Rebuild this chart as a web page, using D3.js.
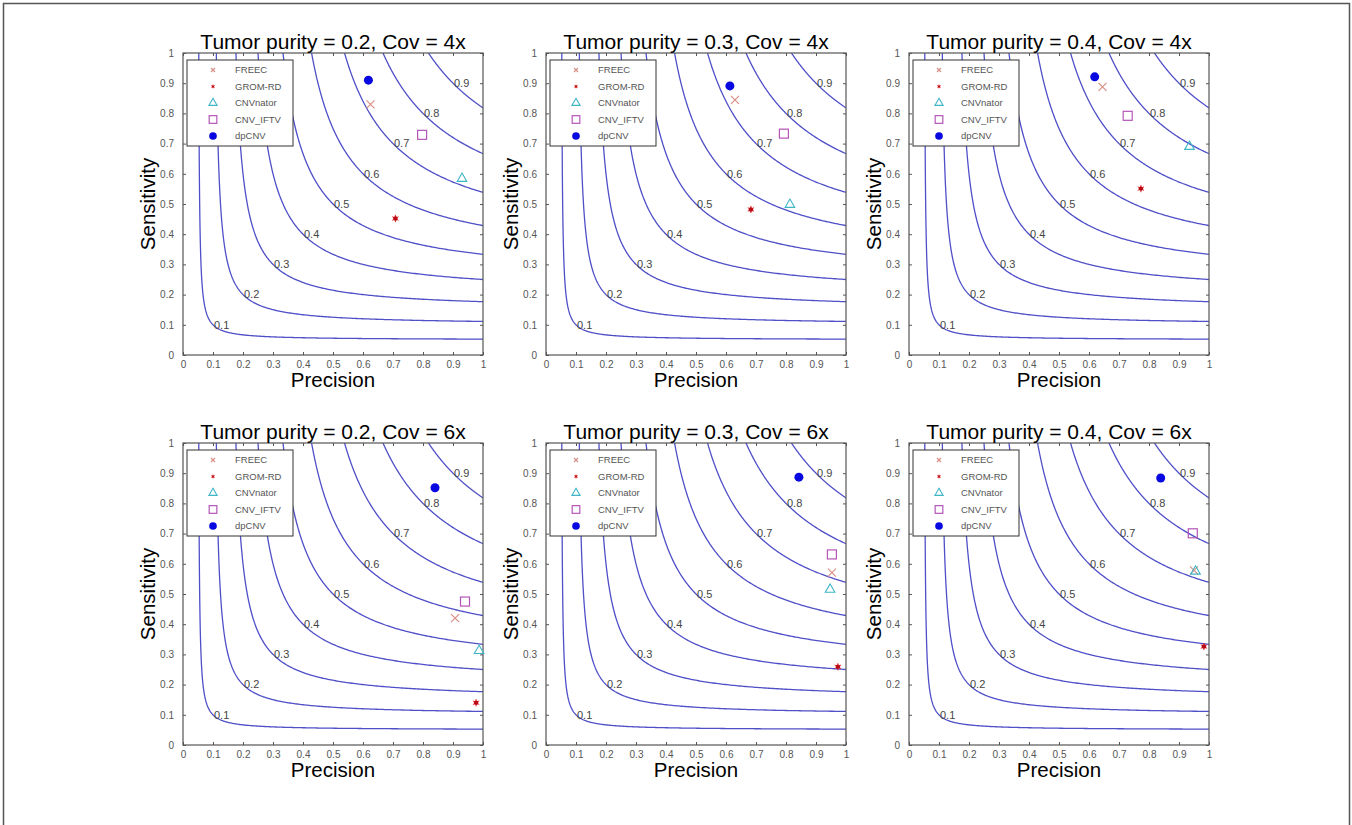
<!DOCTYPE html>
<html>
<head>
<meta charset="utf-8">
<script src="https://cdn.jsdelivr.net/npm/d3@7"></script>
<style>
  body { margin: 0; background: #fff; }
  svg { display: block; font-family: "Liberation Sans", Arial, sans-serif; }
</style>
</head>
<body>
<svg class="chart"></svg>
<script>
// panel titles, row by row
const titles = [
  'Tumor purity = 0.2, Cov = 4x',
  'Tumor purity = 0.3, Cov = 4x',
  'Tumor purity = 0.4, Cov = 4x',
  'Tumor purity = 0.2, Cov = 6x',
  'Tumor purity = 0.3, Cov = 6x',
  'Tumor purity = 0.4, Cov = 6x'
]

const methods = ['FREEC', 'GROM-RD', 'CNVnator', 'CNV_IFTV', 'dpCNV']

// precision / sensitivity per panel (same order as titles)
const freecP = [0.625, 0.630, 0.645, 0.907, 0.953, 0.950]
const freecR = [0.830, 0.845, 0.888, 0.420, 0.571, 0.578]
const gromP = [0.708, 0.683, 0.773, 0.977, 0.973, 0.983]
const gromR = [0.452, 0.482, 0.551, 0.140, 0.259, 0.326]
const cnvnatorP = [0.930, 0.813, 0.935, 0.987, 0.947, 0.955]
const cnvnatorR = [0.584, 0.498, 0.690, 0.312, 0.515, 0.575]
const iftvP = [0.797, 0.793, 0.729, 0.940, 0.953, 0.946]
const iftvR = [0.729, 0.733, 0.792, 0.475, 0.631, 0.701]
const dpcnvP = [0.618, 0.613, 0.619, 0.840, 0.843, 0.839]
const dpcnvR = [0.910, 0.891, 0.921, 0.852, 0.887, 0.884]

// iso F-score levels and axis ticks
const fLevels = [0.1, 0.2, 0.3, 0.4, 0.5, 0.6, 0.7, 0.8, 0.9]
const ticks = [0, 0.1, 0.2, 0.3, 0.4, 0.5, 0.6, 0.7, 0.8, 0.9, 1]

const W = 1352, H = 825
const colLeft = [183, 546, 909]
const rowTop = [53, 443]
const pw = 300, ph = 302

const svg = d3.select('.chart').attr('width', W).attr('height', H)

// outer frame
svg.append('path')
  .attr('d', `M3.5,${H + 2}V3.5H1349.5V${H + 2}`)
  .attr('fill', 'none')
  .attr('stroke', '#555')
  .attr('stroke-width', 1.5)

const styles = {
  'FREEC': { color: '#d98f86' },
  'GROM-RD': { color: '#e82020' },
  'CNVnator': { color: '#3fb6c6' },
  'CNV_IFTV': { color: '#b455b8' },
  'dpCNV': { color: '#0808e0' }
}

function drawMarker(g, name, x, y, s) {
  const c = styles[name].color
  if (name === 'FREEC') {
    const h = 4 * s
    g.append('path')
      .attr('d', `M${x - h},${y - h}L${x + h},${y + h}M${x - h},${y + h}L${x + h},${y - h}`)
      .attr('stroke', c).attr('stroke-width', 1.2).attr('fill', 'none')
  } else if (name === 'GROM-RD') {
    g.append('path')
      .attr('transform', `translate(${x},${y})`)
      .attr('d', d3.symbol(d3.symbolAsterisk, 36 * s * s)())
      .attr('stroke', c).attr('stroke-width', 1).attr('fill', 'none')
    g.append('circle').attr('cx', x).attr('cy', y).attr('r', 2.2 * s).attr('fill', '#b80a14')
  } else if (name === 'CNVnator') {
    g.append('path')
      .attr('transform', `translate(${x},${y})`)
      .attr('d', d3.symbol(d3.symbolTriangle, 40 * s * s)())
      .attr('stroke', c).attr('stroke-width', 1.1).attr('fill', 'none')
  } else if (name === 'CNV_IFTV') {
    g.append('rect')
      .attr('x', x - 4.5 * s).attr('y', y - 4.5 * s)
      .attr('width', 9 * s).attr('height', 9 * s)
      .attr('stroke', c).attr('stroke-width', 1.2).attr('fill', 'none')
  } else {
    g.append('circle').attr('cx', x).attr('cy', y).attr('r', 4.5 * s).attr('fill', c)
  }
}

const seriesP = [freecP, gromP, cnvnatorP, iftvP, dpcnvP]
const seriesR = [freecR, gromR, cnvnatorR, iftvR, dpcnvR]

titles.forEach((title, i) => {
  const left = colLeft[i % 3], top = rowTop[Math.floor(i / 3)]
  const x = d3.scaleLinear().domain([0, 1]).range([0, pw])
  const y = d3.scaleLinear().domain([0, 1]).range([ph, 0])

  const g = svg.append('g').attr('transform', `translate(${left},${top})`)

  g.append('clipPath').attr('id', 'clip' + i)
    .append('rect').attr('width', pw).attr('height', ph)

  // iso F-score curves: R = F*P / (2P - F)
  const line = d3.line().x(d => x(d[0])).y(d => y(d[1]))
  const curves = g.append('g').attr('clip-path', `url(#clip${i})`)
  fLevels.forEach(f => {
    const p0 = f / (2 - f)
    const pts = d3.range(0, 201).map(k => {
      const p = p0 + (1 - p0) * Math.pow(k / 200, 2)
      return [p, f * p / (2 * p - f)]
    })
    curves.append('path')
      .attr('d', line(pts))
      .attr('fill', 'none')
      .attr('stroke', '#4f4fc8')
      .attr('stroke-width', 1.3)
  })

  fLevels.forEach(f => {
    g.append('text')
      .attr('x', x(f) + 1)
      .attr('y', y(f))
      .attr('dy', '0.35em')
      .attr('font-size', 11)
      .attr('fill', '#444')
      .text(f)
  })

  // axes (MATLAB-style inward ticks on all four sides)
  const fmt = d => d === 0 || d === 1 ? d : d.toFixed(1)
  const axisStyle = sel => {
    sel.select('.domain').remove()
    sel.selectAll('.tick line').attr('stroke', '#555')
    sel.selectAll('.tick text').attr('fill', '#555').attr('font-size', 10)
      .attr('font-family', '"Liberation Sans", Arial, sans-serif')
  }
  g.append('g').attr('transform', `translate(0,${ph})`)
    .call(d3.axisBottom(x).tickValues(ticks).tickFormat(fmt).tickSize(-3).tickPadding(6))
    .call(axisStyle)
  g.append('g')
    .call(d3.axisLeft(y).tickValues(ticks).tickFormat(fmt).tickSize(-3).tickPadding(9))
    .call(axisStyle)
  g.append('g')
    .call(d3.axisTop(x).tickValues(ticks).tickFormat('').tickSize(-3))
    .call(axisStyle)
  g.append('g').attr('transform', `translate(${pw},0)`)
    .call(d3.axisRight(y).tickValues(ticks).tickFormat('').tickSize(-3))
    .call(axisStyle)

  g.append('rect')
    .attr('width', pw).attr('height', ph)
    .attr('fill', 'none').attr('stroke', '#555').attr('stroke-width', 1.2)

  // legend
  const lg = g.append('g').attr('transform', 'translate(4,7)')
  lg.append('rect')
    .attr('width', 106).attr('height', 86)
    .attr('fill', '#fff').attr('stroke', '#333').attr('stroke-width', 1)
  methods.forEach((m, k) => {
    const ly = 10 + k * 16.5
    drawMarker(lg, m, 26, ly, m === 'FREEC' || m === 'GROM-RD' ? 0.5 : 0.85)
    lg.append('text')
      .attr('x', 48).attr('y', ly).attr('dy', '0.35em')
      .attr('font-size', 9.5).attr('fill', '#555')
      .text(m)
  })

  // data points
  methods.forEach((m, k) => {
    drawMarker(g, m, x(seriesP[k][i]), y(seriesR[k][i]), 1)
  })

  // labels
  g.append('text')
    .attr('x', pw / 2).attr('y', -4)
    .attr('text-anchor', 'middle')
    .attr('font-size', 21)
    .text(title)
  g.append('text')
    .attr('x', pw / 2).attr('y', ph + 32)
    .attr('text-anchor', 'middle')
    .attr('font-size', 20.5)
    .text('Precision')
  g.append('text')
    .attr('transform', `translate(-28,${ph / 2}) rotate(-90)`)
    .attr('text-anchor', 'middle')
    .attr('font-size', 20.5)
    .text('Sensitivity')
})
</script>
</body>
</html>
